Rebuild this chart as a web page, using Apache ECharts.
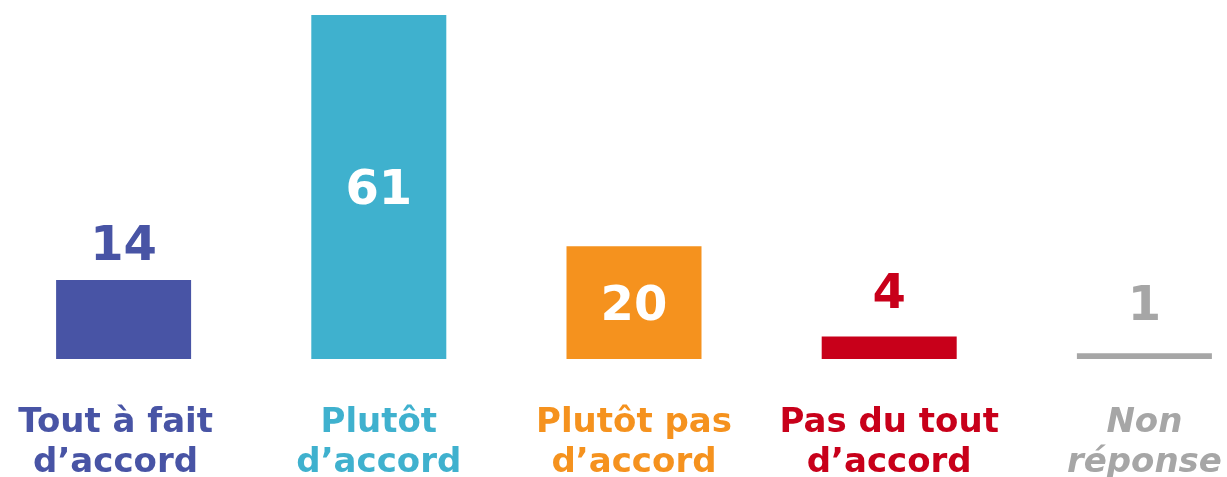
<!DOCTYPE html>
<html>
<head>
    <meta charset="utf-8">
    <title>Accord</title>
    <script src="https://cdn.jsdelivr.net/npm/echarts@6/dist/echarts.min.js"></script>
    <style>
        html, body { margin: 0; padding: 0; background: #fff; }
    </style>
</head>
<body>
<div id="chart" style="width: 1227px;height:477px;"></div>
<script type="text/javascript">
    // données
    var categories = ["Tout à fait\nd’accord", "Plutôt\nd’accord", "Plutôt pas\nd’accord", "Pas du tout\nd’accord", "Non\nréponse"];
    var values = [14, 61, 20, 4, 1];
    var colors = ['#4854A5', '#3FB1CE', '#F5921E', '#C8001A', '#A6A6A6'];
    var labelInside = [false, true, true, false, false];
    var labelDistance = [9, 0, 0, 17, 22];

    var myChart = echarts.init(document.getElementById('chart'));

    var catData = [];
    var barData = [];
    for (var i = 0; i < categories.length; i++) {
        catData.push({
            value: categories[i],
            textStyle: {
                color: colors[i],
                fontStyle: i === 4 ? 'italic' : 'normal',
                padding: i === 0 ? [0, 16, 0, 0] : 0
            }
        });
        barData.push({
            value: values[i],
            itemStyle: { color: colors[i] },
            label: labelInside[i] ? {
                position: 'inside',
                offset: [0, 5],
                color: '#fff'
            } : {
                position: 'top',
                distance: labelDistance[i],
                color: colors[i]
            }
        });
    }

    var option = {
        animation: false,
        grid: {
            left: -4,
            width: 1276,
            top: 15,
            bottom: 118,
            outerBoundsMode: 'none'
        },
        xAxis: {
            type: 'category',
            data: catData,
            axisLine: { show: false },
            axisTick: { show: false },
            axisLabel: {
                interval: 0,
                margin: 44,
                fontFamily: 'DejaVu Sans',
                fontWeight: 'bold',
                fontSize: 34,
                lineHeight: 40
            }
        },
        yAxis: {
            type: 'value',
            min: 0,
            max: 61,
            show: false
        },
        series: [{
            type: 'bar',
            data: barData,
            barWidth: 135,
            label: {
                show: true,
                fontFamily: 'DejaVu Sans',
                fontWeight: 'bold',
                fontSize: 48
            }
        }]
    };

    myChart.setOption(option);
</script>
</body>
</html>
